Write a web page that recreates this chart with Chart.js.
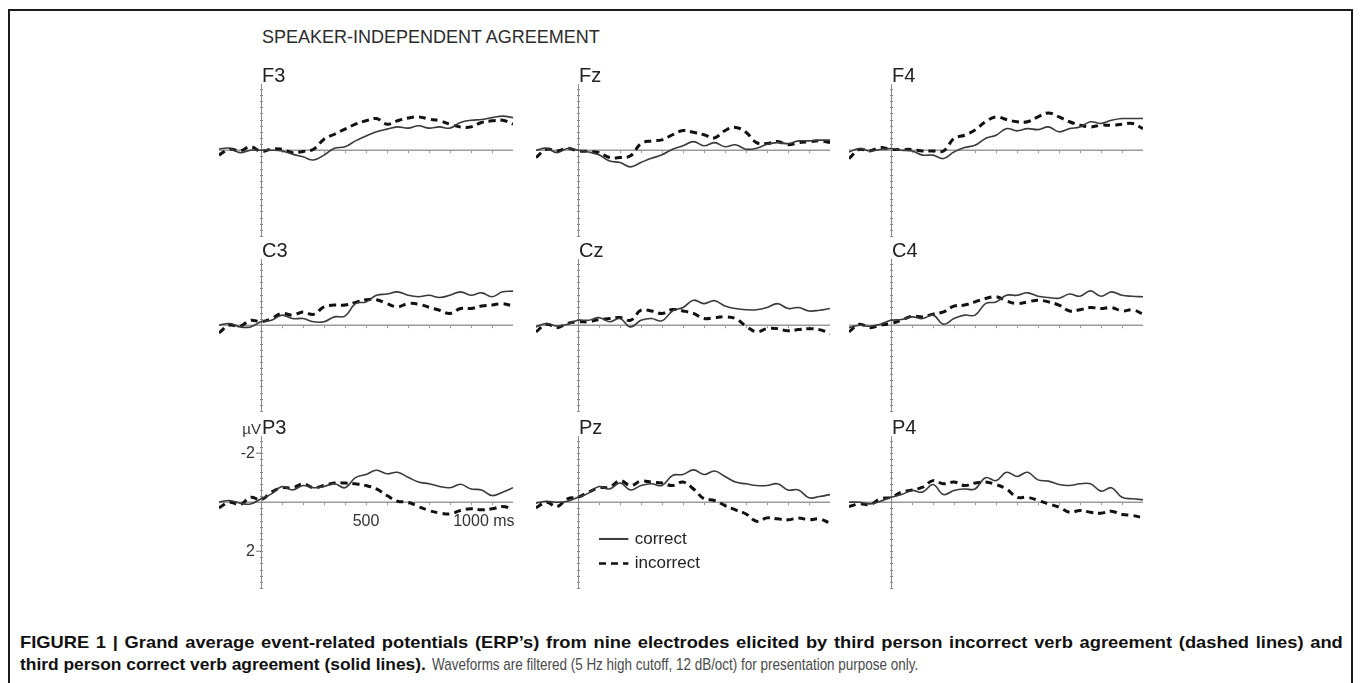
<!DOCTYPE html>
<html>
<head>
<meta charset="utf-8">
<title>Speaker-independent agreement ERPs</title>
<script src="https://cdn.jsdelivr.net/npm/chart.js@4.4.1/dist/chart.umd.min.js"></script>
<style>
  html, body { margin: 0; padding: 0; background: #fff; }
  body { width: 1362px; height: 683px; position: relative; overflow: hidden; font-family: "Liberation Sans", Arial, sans-serif; }
  #frame { position: absolute; left: 8px; top: 9px; width: 1345px; height: 700px; border: 2px solid #1b1b1b; border-bottom: none; box-sizing: border-box; }
  #title { position: absolute; left: 262px; top: 28px; font-size: 18px; line-height: 18px; color: #2b2b2b; white-space: nowrap; }
  .caption { position: absolute; font-size: 17px; line-height: 17px; white-space: nowrap; transform-origin: 0 50%; }
  #cap1 { left: 20px; top: 634px; font-weight: bold; color: #111; word-spacing: 1.5px; }
  #cap2b { left: 20px; top: 656px; font-weight: bold; color: #111; }
  #cap2r { left: 432px; top: 656px; color: #4a4a4a; }
  canvas { position: absolute; }
</style>
</head>
<body>
<div id="frame"></div>
<div id="title">SPEAKER-INDEPENDENT AGREEMENT</div>
<div class="caption" id="cap1">FIGURE 1 | Grand average event-related potentials (ERP’s) from nine electrodes elicited by third person incorrect verb agreement (dashed lines) and</div>
<div class="caption" id="cap2b">third person correct verb agreement (solid lines).</div>
<div class="caption" id="cap2r">Waveforms are filtered (5 Hz high cutoff, 12 dB/oct) for presentation purpose only.</div>

<script>
// Time points (ms)
const times = [-200, -150, -100, -50, 0, 50, 100, 150, 200, 250, 300, 350, 400, 450, 500,
  550, 600, 650, 700, 750, 800, 850, 900, 950, 1000, 1050, 1100, 1150, 1200];

// Amplitudes in µV (negative is plotted upwards)
const f3Correct = [-0.05, -0.08, 0.1, 0, 0, 0, 0.03, 0.16, 0.27, 0.4, 0.2, -0.08, -0.14, -0.38, -0.58,
  -0.75, -0.86, -0.95, -0.9, -1.0, -0.9, -0.95, -0.9, -1.13, -1.22, -1.25, -1.33, -1.39, -1.33];
const f3Incorrect = [0.2, -0.04, 0.03, -0.14, 0.05, -0.04, -0.04, 0.1, 0.05, -0.04, -0.45, -0.65, -0.86, -1.06, -1.2,
  -1.29, -1.06, -1.2, -1.31, -1.36, -1.27, -1.2, -1.06, -0.95, -0.95, -1.13, -1.2, -1.22, -1.06];
const fzCorrect = [0, -0.08, 0.1, -0.07, 0, 0.07, 0.19, 0.44, 0.5, 0.68, 0.5, 0.33, 0.19, -0.04, -0.18,
  -0.35, -0.18, -0.31, -0.14, -0.22, -0.04, -0.08, -0.24, -0.31, -0.27, -0.38, -0.38, -0.41, -0.41];
const fzIncorrect = [0.3, -0.04, 0.03, -0.08, 0.03, 0.05, 0.1, 0.3, 0.3, 0.23, -0.27, -0.38, -0.42, -0.63, -0.8,
  -0.73, -0.63, -0.5, -0.8, -0.93, -0.73, -0.31, -0.27, -0.35, -0.22, -0.31, -0.34, -0.38, -0.31];
const f4Correct = [0.07, -0.07, 0.03, -0.03, -0.07, 0, 0.03, 0.2, 0.2, 0.34, 0.07, -0.11, -0.2, -0.48, -0.61,
  -0.88, -0.79, -0.88, -0.84, -0.95, -0.75, -0.88, -0.95, -1.16, -1.09, -1.22, -1.29, -1.29, -1.29];
const f4Incorrect = [0.34, -0.03, 0.03, -0.11, -0.03, -0.03, -0.03, 0.03, 0.03, 0.03, -0.48, -0.61, -0.82, -1.16, -1.36,
  -1.25, -1.16, -1.16, -1.36, -1.52, -1.36, -1.16, -1.02, -0.95, -1.02, -1.02, -1.06, -1.09, -0.88];

const c3Correct = [0, -0.07, 0.07, 0.07, -0.14, -0.2, -0.41, -0.27, -0.27, -0.14, -0.14, -0.34, -0.37, -0.88, -0.95,
  -1.22, -1.27, -1.36, -1.22, -1.16, -1.22, -1.13, -1.22, -1.36, -1.22, -1.32, -1.16, -1.36, -1.39];
const c3Incorrect = [0.31, 0, 0.04, -0.2, -0.14, -0.27, -0.48, -0.41, -0.54, -0.44, -0.75, -0.82, -0.82, -0.93, -1.04,
  -1.04, -0.88, -0.75, -0.88, -0.86, -0.73, -0.61, -0.48, -0.68, -0.68, -0.78, -0.82, -0.88, -0.78];
const czCorrect = [0.07, -0.07, 0.04, -0.04, -0.2, -0.2, -0.31, -0.14, -0.27, 0.07, -0.2, -0.27, -0.18, -0.58, -0.72,
  -1.02, -0.88, -1.0, -0.78, -0.68, -0.63, -0.63, -0.72, -0.88, -0.68, -0.72, -0.58, -0.61, -0.68];
const czIncorrect = [0.27, -0.04, 0.1, -0.07, -0.14, -0.14, -0.23, -0.27, -0.31, -0.2, -0.61, -0.58, -0.48, -0.64, -0.58,
  -0.48, -0.27, -0.31, -0.34, -0.27, 0.04, 0.27, 0.14, 0.14, 0.23, 0.18, 0.14, 0.18, 0.34];
const c4Correct = [0.1, 0, 0.04, -0.04, -0.2, -0.23, -0.34, -0.27, -0.41, -0.04, -0.27, -0.41, -0.41, -0.88, -0.95,
  -1.22, -1.22, -1.32, -1.18, -1.13, -1.1, -1.27, -1.18, -1.4, -1.18, -1.36, -1.22, -1.18, -1.16];
const c4Incorrect = [0.27, -0.04, 0.1, 0, -0.07, -0.2, -0.37, -0.34, -0.45, -0.54, -0.78, -0.82, -0.95, -1.09, -1.16,
  -0.99, -0.88, -0.95, -1.02, -0.95, -0.82, -0.58, -0.63, -0.72, -0.68, -0.72, -0.58, -0.63, -0.45];

const p3Correct = [0, -0.07, 0.04, 0.07, -0.14, -0.34, -0.64, -0.5, -0.68, -0.59, -0.64, -0.75, -0.59, -1.0, -1.13,
  -1.3, -1.16, -1.22, -1.02, -0.82, -0.75, -0.64, -0.59, -0.73, -0.54, -0.5, -0.27, -0.41, -0.59];
const p3Incorrect = [0.23, 0, 0.1, -0.2, -0.1, -0.41, -0.59, -0.59, -0.75, -0.59, -0.68, -0.78, -0.78, -0.75, -0.68,
  -0.54, -0.27, -0.04, 0, 0.18, 0.34, 0.44, 0.48, 0.34, 0.27, 0.31, 0.27, 0.18, 0.27];
const pzCorrect = [0.04, -0.04, 0, -0.04, -0.2, -0.37, -0.64, -0.54, -0.78, -0.5, -0.68, -0.75, -0.68, -1.09, -1.13,
  -1.32, -1.13, -1.27, -1.05, -0.82, -0.75, -0.68, -0.68, -0.75, -0.5, -0.5, -0.18, -0.23, -0.31];
const pzIncorrect = [0.23, 0, 0.18, -0.14, -0.2, -0.41, -0.59, -0.61, -0.88, -0.68, -0.86, -0.82, -0.78, -0.68, -0.82,
  -0.54, -0.14, -0.07, 0.14, 0.31, 0.48, 0.78, 0.64, 0.68, 0.72, 0.64, 0.72, 0.68, 0.86];
const p4Correct = [0, 0, 0.07, -0.04, -0.2, -0.31, -0.48, -0.41, -0.72, -0.31, -0.48, -0.54, -0.54, -1.0, -0.88,
  -1.22, -1.05, -1.22, -0.91, -0.86, -0.72, -0.68, -0.75, -0.75, -0.45, -0.59, -0.2, -0.14, -0.1];
const p4Incorrect = [0.18, 0.07, 0.1, -0.14, -0.2, -0.41, -0.5, -0.61, -0.88, -0.75, -0.82, -0.68, -0.78, -0.82, -0.72,
  -0.54, -0.2, -0.2, -0.07, 0.07, 0.2, 0.41, 0.34, 0.41, 0.45, 0.37, 0.5, 0.54, 0.64];

// Axis ticks and labels (only the P3 panel carries labels)
const xMinorTicks = [100, 200, 300, 400, 500, 600, 700, 800, 900, 1000, 1100];
const xTickValues = [500, 1000];
const xTickLabels = ['500', '1000'];
const xUnit = 'ms';
const yTickValues = [-2, 2];
const yTickLabels = ['-2', '2'];
const yUnit = 'µV';
const seriesNames = ['correct', 'incorrect'];

const X_MIN = -200, X_MAX = 1200;
const Y_MIN = -2.7, Y_MAX = 3.5;
const PX_PER_MS = 0.21;
const AREA_H = 152;
const PAD = { left: 60, right: 24, top: 40, bottom: 44 };
const FONT = '"Liberation Sans", Arial, sans-serif';

// Layout of the 3x3 grid: pixel of t=0 and of 0 µV
const panels = [
  { name: 'F3', correct: f3Correct, incorrect: f3Incorrect, zeroX: 261, baseY: 150 },
  { name: 'Fz', correct: fzCorrect, incorrect: fzIncorrect, zeroX: 578, baseY: 150 },
  { name: 'F4', correct: f4Correct, incorrect: f4Incorrect, zeroX: 891, baseY: 150 },
  { name: 'C3', correct: c3Correct, incorrect: c3Incorrect, zeroX: 261, baseY: 325 },
  { name: 'Cz', correct: czCorrect, incorrect: czIncorrect, zeroX: 578, baseY: 325 },
  { name: 'C4', correct: c4Correct, incorrect: c4Incorrect, zeroX: 891, baseY: 325 },
  { name: 'P3', correct: p3Correct, incorrect: p3Incorrect, zeroX: 261, baseY: 502, axisLabels: true },
  { name: 'Pz', correct: pzCorrect, incorrect: pzIncorrect, zeroX: 578, baseY: 502, legend: true },
  { name: 'P4', correct: p4Correct, incorrect: p4Incorrect, zeroX: 891, baseY: 502 }
];

const solidStyle = { borderColor: '#3a3a3a', borderWidth: 1.6 };
const dashedStyle = { borderColor: '#111', borderWidth: 3, borderDash: [7, 5] };

const line = (ctx, x1, y1, x2, y2) => {
  ctx.beginPath();
  ctx.moveTo(x1, y1);
  ctx.lineTo(x2, y2);
  ctx.stroke();
};

// Draws the ERP-style axes: zero line, t=0 axis, ticks, labels
const erpAxesPlugin = (panel) => ({
  id: 'erpAxes',
  beforeDatasetsDraw(chart) {
    const { ctx, chartArea } = chart;
    const xs = chart.scales.x, ys = chart.scales.y;
    const x0 = xs.getPixelForValue(0), y0 = ys.getPixelForValue(0);
    ctx.save();

    ctx.strokeStyle = '#9a9a9a';
    ctx.lineWidth = 1.5;
    line(ctx, chartArea.left, y0, chartArea.right, y0);
    ctx.lineWidth = 1;
    xMinorTicks.forEach(t => {
      const px = Math.round(xs.getPixelForValue(t)) + 0.5;
      line(ctx, px, y0, px, y0 + 3);
    });

    ctx.strokeStyle = '#8a8a8a';
    const ax = Math.round(x0) + 0.5;
    line(ctx, ax, chartArea.top, ax, chartArea.bottom);
    for (let v = -2.5; v <= 3.5; v += 0.25) {
      const py = Math.round(ys.getPixelForValue(v)) + 0.5;
      line(ctx, ax - 1.5, py, ax + 1.5, py);
    }

    ctx.fillStyle = '#222';
    ctx.font = '20px ' + FONT;
    ctx.textAlign = 'left';
    ctx.textBaseline = 'alphabetic';
    ctx.fillText(panel.name, x0 + 1, chartArea.top - 2);

    if (panel.axisLabels) {
      ctx.fillStyle = '#333';
      ctx.font = '15px ' + FONT;
      ctx.textAlign = 'right';
      ctx.fillText(yUnit, x0, chartArea.top - 2);

      ctx.font = '16px ' + FONT;
      ctx.textBaseline = 'middle';
      ctx.strokeStyle = '#777';
      yTickValues.forEach((v, i) => {
        const py = ys.getPixelForValue(v);
        line(ctx, x0 - 5, py, x0, py);
        ctx.fillText(yTickLabels[i], x0 - 6, py);
      });

      ctx.textBaseline = 'top';
      xTickValues.forEach((t, i) => {
        const px = xs.getPixelForValue(t);
        ctx.textAlign = 'center';
        ctx.fillText(xTickLabels[i], px, y0 + 11);
        if (i === xTickValues.length - 1) {
          const w = ctx.measureText(xTickLabels[i]).width;
          ctx.textAlign = 'left';
          ctx.fillText(' ' + xUnit, px + w / 2, y0 + 11);
        }
      });
    }

    if (panel.legend) {
      const lx1 = xs.getPixelForValue(100), lx2 = xs.getPixelForValue(240);
      const tx = xs.getPixelForValue(270);
      [solidStyle, dashedStyle].forEach((st, i) => {
        const py = ys.getPixelForValue(1.5 + i);
        ctx.strokeStyle = st.borderColor;
        ctx.lineWidth = i === 0 ? 2 : 2.6;
        ctx.setLineDash(st.borderDash || []);
        line(ctx, lx1, py, lx2, py);
        ctx.setLineDash([]);
        ctx.fillStyle = '#222';
        ctx.font = '17px ' + FONT;
        ctx.textAlign = 'left';
        ctx.textBaseline = 'middle';
        ctx.fillText(seriesNames[i], tx, py);
      });
    }
    ctx.restore();
  }
});

const createErpChart = (panel) => {
  const areaW = Math.round((X_MAX - X_MIN) * PX_PER_MS);
  const w = areaW + PAD.left + PAD.right;
  const h = AREA_H + PAD.top + PAD.bottom;
  const areaTop = Math.round(panel.baseY - AREA_H * (-Y_MIN) / (Y_MAX - Y_MIN));
  const canvas = document.createElement('canvas');
  canvas.width = w;
  canvas.height = h;
  canvas.style.width = w + 'px';
  canvas.style.height = h + 'px';
  canvas.style.left = (panel.zeroX + X_MIN * PX_PER_MS - PAD.left) + 'px';
  canvas.style.top = (areaTop - PAD.top) + 'px';
  document.body.appendChild(canvas);

  const toPoints = (vals) => times.map((t, i) => ({ x: t, y: vals[i] }));

  return new Chart(canvas, {
    type: 'line',
    data: {
      datasets: [
        { label: seriesNames[0], data: toPoints(panel.correct), ...solidStyle, tension: 0.4, pointRadius: 0, fill: false },
        { label: seriesNames[1], data: toPoints(panel.incorrect), ...dashedStyle, tension: 0.4, pointRadius: 0, fill: false }
      ]
    },
    options: {
      responsive: false,
      animation: false,
      events: [],
      layout: { padding: PAD },
      plugins: {
        legend: { display: false },
        tooltip: { enabled: false }
      },
      scales: {
        x: { type: 'linear', min: X_MIN, max: X_MAX, display: false },
        y: { type: 'linear', min: Y_MIN, max: Y_MAX, reverse: true, display: false }
      }
    },
    plugins: [erpAxesPlugin(panel)]
  });
};

panels.forEach(createErpChart);

// Caption set in a narrow face: squeeze each run to the width it has in the figure
const fitCaption = () => {
  const squeeze = (id, target) => {
    const el = document.getElementById(id);
    el.style.transform = 'scaleX(' + (target / el.offsetWidth).toFixed(3) + ')';
  };
  squeeze('cap1', 1323);
  squeeze('cap2b', 406);
  squeeze('cap2r', 486);
};
fitCaption();
</script>
</body>
</html>
